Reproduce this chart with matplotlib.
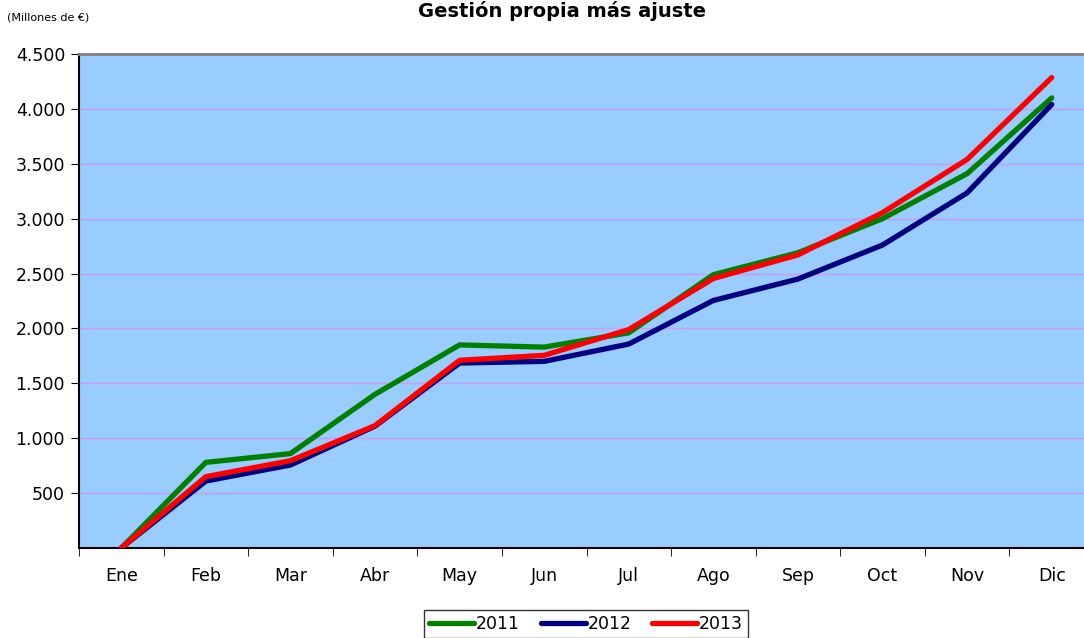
import matplotlib
matplotlib.use("Agg")
import matplotlib.pyplot as plt
import numpy as np

# data (millones de euros)
meses = ["Ene", "Feb", "Mar", "Abr", "May", "Jun", "Jul", "Ago", "Sep", "Oct", "Nov", "Dic"]
v2011 = [0, 780, 860, 1400, 1850, 1830, 1960, 2490, 2690, 3000, 3410, 4100]
v2012 = [0, 610, 756, 1110, 1685, 1700, 1858, 2255, 2450, 2760, 3235, 4040]
v2013 = [0, 650, 795, 1115, 1710, 1755, 1990, 2455, 2670, 3055, 3540, 4285]
yticks = [500, 1000, 1500, 2000, 2500, 3000, 3500, 4000, 4500]

plt.rcParams['font.family'] = ['DejaVu Sans']

fig = plt.figure(figsize=(10.84, 6.38), dpi=100)
W, H = 1084, 638
# plot area runs a bit past the right edge of the image, like the reference
ax = fig.add_axes([79 / W, 1 - 548 / H, (1094 - 79) / W, (548 - 54) / H])
ax.set_facecolor("#99CCFF")

x = np.arange(len(meses))
ax.plot(x, v2011, color="#008000", lw=3.8, label="2011", solid_capstyle="round", zorder=3)
ax.plot(x, v2012, color="#000080", lw=3.8, label="2012", solid_capstyle="round", zorder=4)
ax.plot(x, v2013, color="#FF0000", lw=3.8, label="2013", solid_capstyle="round", zorder=5)

ax.set_xlim(-0.5, 11.5)
ax.set_ylim(0, 4500)
ax.set_yticks(yticks)
ax.set_yticklabels([f"{v:,}".replace(",", ".") for v in yticks], fontsize=12.5)
for v in yticks[:-1]:
    ax.axhline(v, color="#CC99FF", lw=1, zorder=1)

ax.set_xticks(x)
ax.set_xticklabels(meses, fontsize=12.5)
ax.tick_params(axis="x", length=0, pad=14)
ax.set_xticks(np.arange(-0.5, 12, 1), minor=True)
ax.tick_params(axis="x", which="minor", length=6, direction="out", color="black")
ax.tick_params(axis="y", length=6, direction="out", pad=4)

ax.spines["left"].set_color("black")
ax.spines["left"].set_linewidth(1.5)
ax.spines["bottom"].set_color("black")
ax.spines["bottom"].set_linewidth(1.5)
ax.spines["top"].set_color("#808080")
ax.spines["top"].set_linewidth(2)
ax.spines["right"].set_visible(False)

fig.text(562 / W, 1 - 11 / H, "Gestión propia más ajuste", ha="center", va="center",
         fontsize=14, fontweight="bold")
fig.text(7 / W, 1 - 18 / H, "(Millones de €)", ha="left", va="center", fontsize=8)

leg = fig.legend(loc="center", bbox_to_anchor=(586 / W, 1 - 624 / H), ncol=3,
                 fontsize=12.5, frameon=True, fancybox=False, edgecolor="black",
                 handlelength=2.6, handletextpad=0.1, columnspacing=1.2,
                 borderpad=0.3)
leg.get_frame().set_linewidth(1)

fig.savefig("out.png", dpi=100)
